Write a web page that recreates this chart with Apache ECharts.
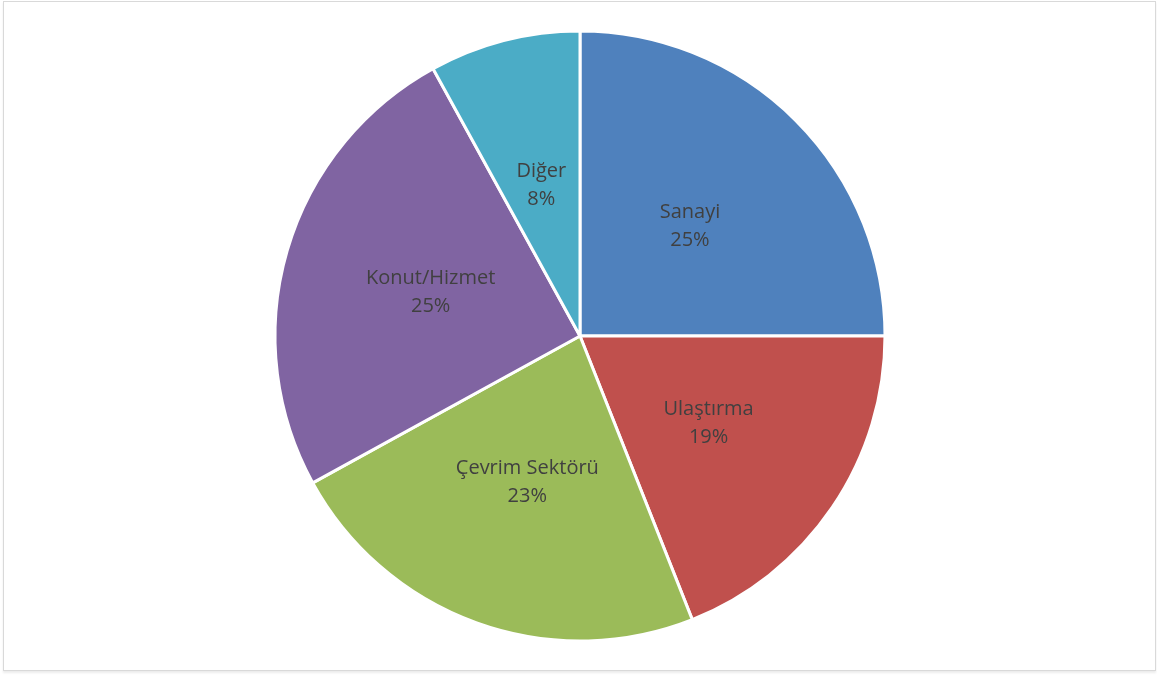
<!DOCTYPE html>
<html>
<head>
<meta charset="utf-8">
<script src="https://cdn.jsdelivr.net/npm/echarts@6/dist/echarts.min.js"></script>
<style>
html,body{margin:0;padding:0;background:#fff;}
#frame{position:absolute;left:3px;top:1px;width:1151px;height:668px;border:1px solid #d9d9d9;box-shadow:0 2px 2px #ececec;}
#chart{position:absolute;left:0;top:0;width:1157px;height:675px;}
</style>
</head>
<body>
<div id="frame"></div>
<div id="chart"></div>
<script>
const categories = ['Sanayi', 'Ulaştırma', 'Çevrim Sektörü', 'Konut/Hizmet', 'Diğer'];
const values = [25, 19, 23, 25, 8];
const colors = ['#4F81BD', '#C0504D', '#9BBB59', '#8064A2', '#4BACC6'];

const chart = echarts.init(document.getElementById('chart'), null, {renderer: 'canvas'});
chart.setOption({
  backgroundColor: 'transparent',
  animation: false,
  series: [{
    type: 'pie',
    center: [580, 336],
    radius: [0, 305],
    startAngle: 90,
    clockwise: true,
    data: categories.map((c, i) => ({name: c, value: values[i], itemStyle: {color: colors[i]}})),
    itemStyle: {borderColor: '#ffffff', borderWidth: 3},
    label: {
      show: true,
      position: 'inside',
      formatter: p => p.name + '\n' + Math.round(p.percent) + '%',
      fontFamily: '"Open Sans", "Noto Sans", sans-serif',
      fontSize: 20,
      lineHeight: 28,
      color: '#404040',
      padding: [8, 0, 0, 0]
    },
    labelLine: {show: false},
    emphasis: {disabled: true}
  }]
});
</script>
</body>
</html>
